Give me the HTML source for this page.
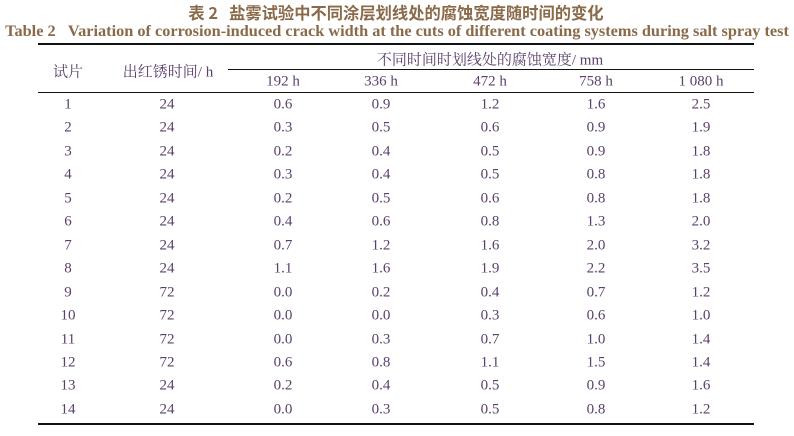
<!DOCTYPE html>
<html><head><meta charset="utf-8"><style>
body{margin:0;width:794px;height:436px;background:#fff;position:relative;overflow:hidden;font-family:"Liberation Serif","Noto Serif CJK SC",serif;}
.t{position:absolute;white-space:nowrap;transform:translate(-50%,-50%);color:#5a3f6a;font-size:15px;}
.r{position:absolute;background:#111;}
.h{color:#8a6a48;font-weight:bold;}
</style></head><body>
<div class="t h" style="left:396px;top:12px;font-size:16.3px;font-family:'Noto Sans CJK SC',sans-serif;">表 2&nbsp;&nbsp;&nbsp;盐雾试验中不同涂层划线处的腐蚀宽度随时间的变化</div>
<div class="t h" style="left:397px;top:31px;font-size:16.3px;">Table 2&nbsp;&nbsp;&nbsp;Variation of corrosion-induced crack width at the cuts of different coating systems during salt spray test</div>
<div class="r" style="left:38px;top:43px;width:716px;height:2px"></div>
<div class="r" style="left:228px;top:69px;width:526px;height:1px"></div>
<div class="r" style="left:38px;top:92px;width:716px;height:1px"></div>
<div class="r" style="left:38px;top:423px;width:716px;height:2px"></div>
<div class="t" style="left:68px;top:71px;font-family:'Noto Serif CJK SC',serif;">试片</div>
<div class="t" style="left:168px;top:71px;"><span style="font-family:'Noto Serif CJK SC',serif">出红锈时间</span>/ h</div>
<div class="t" style="left:490px;top:59px;"><span style="font-family:'Noto Serif CJK SC',serif">不同时间时划线处的腐蚀宽度</span>/ mm</div>
<div id="rows"></div>
<script>
var d=[[1,24,"0.6","0.9","1.2","1.6","2.5"],[2,24,"0.3","0.5","0.6","0.9","1.9"],[3,24,"0.2","0.4","0.5","0.9","1.8"],[4,24,"0.3","0.4","0.5","0.8","1.8"],[5,24,"0.2","0.5","0.6","0.8","1.8"],[6,24,"0.4","0.6","0.8","1.3","2.0"],[7,24,"0.7","1.2","1.6","2.0","3.2"],[8,24,"1.1","1.6","1.9","2.2","3.5"],[9,72,"0.0","0.2","0.4","0.7","1.2"],[10,72,"0.0","0.0","0.3","0.6","1.0"],[11,72,"0.0","0.3","0.7","1.0","1.4"],[12,72,"0.6","0.8","1.1","1.5","1.4"],[13,24,"0.2","0.4","0.5","0.9","1.6"],[14,24,"0.0","0.3","0.5","0.8","1.2"]];
var xs=[68,167,283,381,490,596,701];var h=["192 h","336 h","472 h","758 h","1 080 h"];var s="";
for(var j=0;j<5;j++)s+='<div class="t" style="left:'+xs[j+2]+'px;top:82px">'+h[j]+'</div>';
for(var i=0;i<14;i++){var y=105+i*23.45;for(var j=0;j<7;j++)s+='<div class="t" style="left:'+xs[j]+'px;top:'+y+'px">'+d[i][j]+'</div>';}
document.getElementById('rows').innerHTML=s;
</script>
</body></html>
